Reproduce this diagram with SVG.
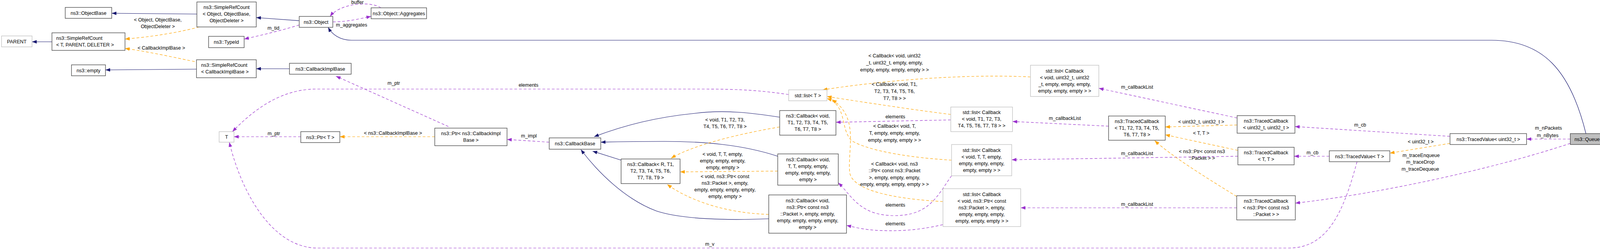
<svg xmlns="http://www.w3.org/2000/svg" width="4125" height="640" viewBox="0 0 4125 640">
<defs>
<style>
text{font-family:"Liberation Sans",Arial,sans-serif;font-size:12.5px;fill:#000}
.n rect{fill:#fff;stroke:#404040;stroke-width:1.3}
.g rect{stroke:#bfbfbf}
.q rect{fill:#bfbfbf}
.c{text-anchor:middle}
.e path{fill:none;stroke-width:1.2}
.b{stroke:#191970;marker-end:url(#mb)}
.p{stroke:#9a32cd;stroke-dasharray:7,5;marker-end:url(#mp)}
.o{stroke:#ffa500;stroke-dasharray:7,5;marker-end:url(#mo)}
</style>
<marker id="mb" viewBox="0 0 12 9" refX="12" refY="4.5" markerWidth="12" markerHeight="9" markerUnits="userSpaceOnUse" orient="auto"><path d="M0,0L12,4.5L0,9z" fill="#191970"/></marker>
<marker id="mp" viewBox="0 0 12 9" refX="12" refY="4.5" markerWidth="12" markerHeight="9" markerUnits="userSpaceOnUse" orient="auto"><path d="M0,0L12,4.5L0,9z" fill="#9a32cd"/></marker>
<marker id="mo" viewBox="0 0 12 9" refX="12" refY="4.5" markerWidth="12" markerHeight="9" markerUnits="userSpaceOnUse" orient="auto"><path d="M0,0L12,4.5L0,9z" fill="#ffa500"/></marker>
</defs>
<rect width="4125" height="640" fill="#fff"/>
<g id="edges" class="e">
<path class="b" d="M504,36L286,34"/>
<path class="o" d="M510,69C450,85 380,95 320,100"/>
<path class="o" d="M510,160C450,148 380,132 320,124"/>
<path class="b" d="M133,107L82,107"/>
<path class="b" d="M503,177L270,179"/>
<path class="b" d="M741,176L656,176"/>
<path class="b" d="M766,53L656,45"/>
<path class="p" d="M766,64C720,78 670,90 625,100"/>
<path class="p" d="M852,56C890,56 920,48 950,42"/>
<path class="p" d="M975,20C950,2 870,8 845,42"/>
<path class="b" d="M4060,342C4020,180 3950,103 3818,103L900,103C870,103 850,88 840,70"/>
<path class="p" d="M1148,324L860,195"/>
<path class="o" d="M1113,350L870,350"/>
<path class="p" d="M770,350L599,350"/>
<path class="p" d="M1406,364L1298,357"/>
<path class="p" d="M2019,242C1950,232 1900,228 1800,228L810,228C720,228 650,280 595,337"/>
<path class="p" d="M3474,414C3440,540 3400,635 3300,635L813,635C700,635 620,500 587,364"/>
<path class="b" d="M1996,300C1930,290 1860,280 1780,290C1680,300 1600,320 1521,350"/>
<path class="b" d="M1991,400C1900,370 1800,362 1700,362C1620,362 1580,363 1538,364"/>
<path class="b" d="M1590,410L1517,387"/>
<path class="b" d="M1968,560C1850,565 1740,560 1680,540C1600,510 1530,440 1487,383"/>
<path class="o" d="M1996,325C1850,350 1760,380 1718,405"/>
<path class="o" d="M1991,438L1741,440"/>
<path class="o" d="M1968,549C1850,545 1760,510 1708,472"/>
<path class="o" d="M2638,197C2500,190 2300,200 2106,230"/>
<path class="o" d="M2434,293C2330,280 2200,260 2117,247"/>
<path class="o" d="M2436,410C2350,405 2230,390 2180,360C2150,330 2170,270 2117,252"/>
<path class="o" d="M2414,516C2300,510 2180,490 2175,440C2170,380 2200,300 2130,255"/>
<path class="p" d="M2434,307L2140,313"/>
<path class="p" d="M2436,450C2400,500 2380,552 2290,552C2200,552 2180,500 2146,468"/>
<path class="p" d="M2414,575C2350,590 2300,592 2250,590C2210,588 2190,582 2167,577"/>
<path class="p" d="M3167,302L2813,226"/>
<path class="p" d="M2838,323L2592,311"/>
<path class="p" d="M3169,400L2590,409"/>
<path class="p" d="M3166,532L2613,532"/>
<path class="o" d="M3167,320L2983,325"/>
<path class="o" d="M3169,385L2983,345"/>
<path class="o" d="M3166,503C3080,450 3000,400 2956,360"/>
<path class="p" d="M3712,349L3315,324"/>
<path class="o" d="M3712,367L3558,392"/>
<path class="p" d="M3403,400L3313,400"/>
<path class="p" d="M4020,356L3908,356"/>
<path class="p" d="M4020,367C3800,440 3500,500 3316,520"/>
<g class="c">
<text x="404" y="55">&lt; Object, ObjectBase,</text><text x="404" y="72">ObjectDeleter &gt;</text>
<text x="413" y="127">&lt; CallbackImplBase &gt;</text>
<text x="700" y="76">m_tid</text>
<text x="915" y="10">buffer</text>
<text x="900" y="68">m_aggregates</text>
<text x="1008" y="217">m_ptr</text>
<text x="1006" y="345">&lt; ns3::CallbackImplBase &gt;</text>
<text x="701" y="346">m_ptr</text>
<text x="1354" y="352">m_impl</text>
<text x="1353" y="222">elements</text>
<text x="1817" y="629">m_v</text>
<text x="1856" y="311">&lt; void, T1, T2, T3,</text><text x="1856" y="328">T4, T5, T6, T7, T8 &gt;</text>
<text x="1850" y="399">&lt; void, T, T, empty,</text><text x="1850" y="416">empty, empty, empty,</text><text x="1850" y="433">empty, empty &gt;</text>
<text x="1856" y="456">&lt; void, ns3::Ptr&lt; const</text><text x="1856" y="473">ns3::Packet &gt;, empty,</text><text x="1856" y="490">empty, empty, empty, empty,</text><text x="1856" y="507">empty, empty &gt;</text>
<text x="2290" y="147">&lt; Callback&lt; void, uint32</text><text x="2290" y="165">_t, uint32_t, empty, empty,</text><text x="2290" y="183">empty, empty, empty, empty &gt; &gt;</text>
<text x="2290" y="220">&lt; Callback&lt; void, T1,</text><text x="2290" y="238">T2, T3, T4, T5, T6,</text><text x="2290" y="256">T7, T8 &gt; &gt;</text>
<text x="2292" y="303">elements</text>
<text x="2290" y="327">&lt; Callback&lt; void, T,</text><text x="2290" y="345">T, empty, empty, empty,</text><text x="2290" y="363">empty, empty, empty &gt; &gt;</text>
<text x="2290" y="424">&lt; Callback&lt; void, ns3</text><text x="2290" y="441">::Ptr&lt; const ns3::Packet</text><text x="2290" y="459">&gt;, empty, empty, empty,</text><text x="2290" y="476">empty, empty, empty, empty &gt; &gt;</text>
<text x="2292" y="529">elements</text>
<text x="2292" y="577">elements</text>
<text x="2911" y="227">m_callbackList</text>
<text x="2726" y="307">m_callbackList</text>
<text x="2911" y="397">m_callbackList</text>
<text x="2911" y="527">m_callbackList</text>
<text x="3075" y="316">&lt; uint32_t, uint32_t &gt;</text>
<text x="3075" y="345">&lt; T, T &gt;</text>
<text x="3077" y="392">&lt; ns3::Ptr&lt; const ns3</text><text x="3077" y="409">::Packet &gt; &gt;</text>
<text x="3482" y="324">m_cb</text>
<text x="3637" y="367">&lt; uint32_t &gt;</text>
<text x="3360" y="395">m_cb</text>
<text x="3964" y="332">m_nPackets</text>
<text x="3962" y="351">m_nBytes</text>
<text x="3638" y="402">m_traceEnqueue</text>
<text x="3636" y="419">m_traceDrop</text>
<text x="3636" y="437">m_traceDequeue</text>
</g>
</g>
<g id="ObjectBase" class="n"><rect x="167" y="19" width="119" height="28"/><text class="c" x="226.5" y="37.5">ns3::ObjectBase</text></g>
<g id="PARENT" class="n g"><rect x="4" y="92" width="78" height="28"/><text class="c" x="43" y="110.5">PARENT</text></g>
<g id="SRC_TPD" class="n"><rect x="133" y="84" width="187" height="45"/><text x="144" y="102">ns3::SimpleRefCount</text><text x="144" y="119">&lt; T, PARENT, DELETER &gt;</text></g>
<g id="empty" class="n"><rect x="183" y="166" width="87" height="28"/><text class="c" x="226.5" y="184.5">ns3::empty</text></g>
<g id="SRC_Object" class="n"><rect x="504" y="5" width="152" height="64"/><text class="c" x="580" y="23">ns3::SimpleRefCount</text><text class="c" x="580" y="40">&lt; Object, ObjectBase,</text><text class="c" x="580" y="57">ObjectDeleter &gt;</text></g>
<g id="TypeId" class="n"><rect x="534" y="93" width="91" height="29"/><text class="c" x="579.5" y="112">ns3::TypeId</text></g>
<g id="Object" class="n"><rect x="766" y="42" width="86" height="28"/><text class="c" x="809" y="60.5">ns3::Object</text></g>
<g id="Aggregates" class="n"><rect x="950" y="20" width="142" height="28"/><text class="c" x="1021" y="38.5">ns3::Object::Aggregates</text></g>
<g id="SRC_CBIB" class="n"><rect x="503" y="153" width="153" height="46"/><text x="515" y="171">ns3::SimpleRefCount</text><text x="515" y="188">&lt; CallbackImplBase &gt;</text></g>
<g id="CallbackImplBase" class="n"><rect x="741" y="162" width="158" height="28"/><text class="c" x="820" y="180.5">ns3::CallbackImplBase</text></g>
<g id="T" class="n g"><rect x="561" y="337" width="38" height="27"/><text class="c" x="580" y="355">T</text></g>
<g id="PtrT" class="n"><rect x="770" y="337" width="100" height="28"/><text class="c" x="820" y="355.5">ns3::Ptr&lt; T &gt;</text></g>
<g id="PtrCBIB" class="n"><rect x="1113" y="328" width="185" height="45"/><text class="c" x="1205.5" y="346">ns3::Ptr&lt; ns3::CallbackImpl</text><text class="c" x="1205.5" y="363">Base &gt;</text></g>
<g id="CallbackBase" class="n"><rect x="1406" y="353" width="132" height="29"/><text class="c" x="1472" y="372">ns3::CallbackBase</text></g>
<g id="CallbackR" class="n"><rect x="1590" y="407" width="151" height="63"/><text class="c" x="1665.5" y="425">ns3::Callback&lt; R, T1,</text><text class="c" x="1665.5" y="442">T2, T3, T4, T5, T6,</text><text class="c" x="1665.5" y="459">T7, T8, T9 &gt;</text></g>
<g id="CallbackT18" class="n"><rect x="1996" y="283" width="144" height="63"/><text class="c" x="2068" y="301">ns3::Callback&lt; void,</text><text class="c" x="2068" y="318">T1, T2, T3, T4, T5,</text><text class="c" x="2068" y="335">T6, T7, T8 &gt;</text></g>
<g id="CallbackTT" class="n"><rect x="1991" y="394" width="155" height="80"/><text class="c" x="2068.5" y="413">ns3::Callback&lt; void,</text><text class="c" x="2068.5" y="430">T, T, empty, empty,</text><text class="c" x="2068.5" y="447">empty, empty, empty,</text><text class="c" x="2068.5" y="464">empty &gt;</text></g>
<g id="CallbackPkt" class="n"><rect x="1968" y="499" width="199" height="98"/><text class="c" x="2067.5" y="518">ns3::Callback&lt; void,</text><text class="c" x="2067.5" y="535">ns3::Ptr&lt; const ns3</text><text class="c" x="2067.5" y="552">::Packet &gt;, empty, empty,</text><text class="c" x="2067.5" y="569">empty, empty, empty, empty,</text><text class="c" x="2067.5" y="586">empty &gt;</text></g>
<g id="ListT" class="n g"><rect x="2019" y="230" width="98" height="28"/><text class="c" x="2068" y="248.5">std::list&lt; T &gt;</text></g>
<g id="ListU32" class="n g"><rect x="2638" y="167" width="175" height="80"/><text class="c" x="2725.5" y="186">std::list&lt; Callback</text><text class="c" x="2725.5" y="203">&lt; void, uint32_t, uint32</text><text class="c" x="2725.5" y="220">_t, empty, empty, empty,</text><text class="c" x="2725.5" y="237">empty, empty, empty &gt; &gt;</text></g>
<g id="ListT18" class="n g"><rect x="2434" y="274" width="158" height="63"/><text class="c" x="2513" y="292">std::list&lt; Callback</text><text class="c" x="2513" y="309">&lt; void, T1, T2, T3,</text><text class="c" x="2513" y="326">T4, T5, T6, T7, T8 &gt; &gt;</text></g>
<g id="ListTT" class="n g"><rect x="2436" y="370" width="154" height="80"/><text class="c" x="2513" y="389">std::list&lt; Callback</text><text class="c" x="2513" y="406">&lt; void, T, T, empty,</text><text class="c" x="2513" y="423">empty, empty, empty,</text><text class="c" x="2513" y="440">empty, empty &gt; &gt;</text></g>
<g id="ListPkt" class="n g"><rect x="2414" y="483" width="199" height="97"/><text class="c" x="2513.5" y="502">std::list&lt; Callback</text><text class="c" x="2513.5" y="519">&lt; void, ns3::Ptr&lt; const</text><text class="c" x="2513.5" y="536">ns3::Packet &gt;, empty,</text><text class="c" x="2513.5" y="553">empty, empty, empty,</text><text class="c" x="2513.5" y="570">empty, empty, empty &gt; &gt;</text></g>
<g id="TC18" class="n"><rect x="2838" y="297" width="145" height="62"/><text class="c" x="2910.5" y="315">ns3::TracedCallback</text><text class="c" x="2910.5" y="332">&lt; T1, T2, T3, T4, T5,</text><text class="c" x="2910.5" y="349">T6, T7, T8 &gt;</text></g>
<g id="TCU32" class="n"><rect x="3167" y="296" width="148" height="45"/><text class="c" x="3241" y="314">ns3::TracedCallback</text><text class="c" x="3241" y="331">&lt; uint32_t, uint32_t &gt;</text></g>
<g id="TCTT" class="n"><rect x="3169" y="377" width="144" height="45"/><text class="c" x="3241" y="395">ns3::TracedCallback</text><text class="c" x="3241" y="412">&lt; T, T &gt;</text></g>
<g id="TCPkt" class="n"><rect x="3166" y="501" width="150" height="62"/><text class="c" x="3241" y="519">ns3::TracedCallback</text><text class="c" x="3241" y="536">&lt; ns3::Ptr&lt; const ns3</text><text class="c" x="3241" y="553">::Packet &gt; &gt;</text></g>
<g id="TVT" class="n"><rect x="3403" y="386" width="155" height="28"/><text class="c" x="3480.5" y="404.5">ns3::TracedValue&lt; T &gt;</text></g>
<g id="TVU32" class="n"><rect x="3712" y="342" width="196" height="28"/><text class="c" x="3810" y="360.5">ns3::TracedValue&lt; uint32_t &gt;</text></g>
<g id="Queue" class="n q"><rect x="4020" y="342" width="86" height="28"/><text class="c" x="4063" y="360.5">ns3::Queue</text></g>
</svg>
